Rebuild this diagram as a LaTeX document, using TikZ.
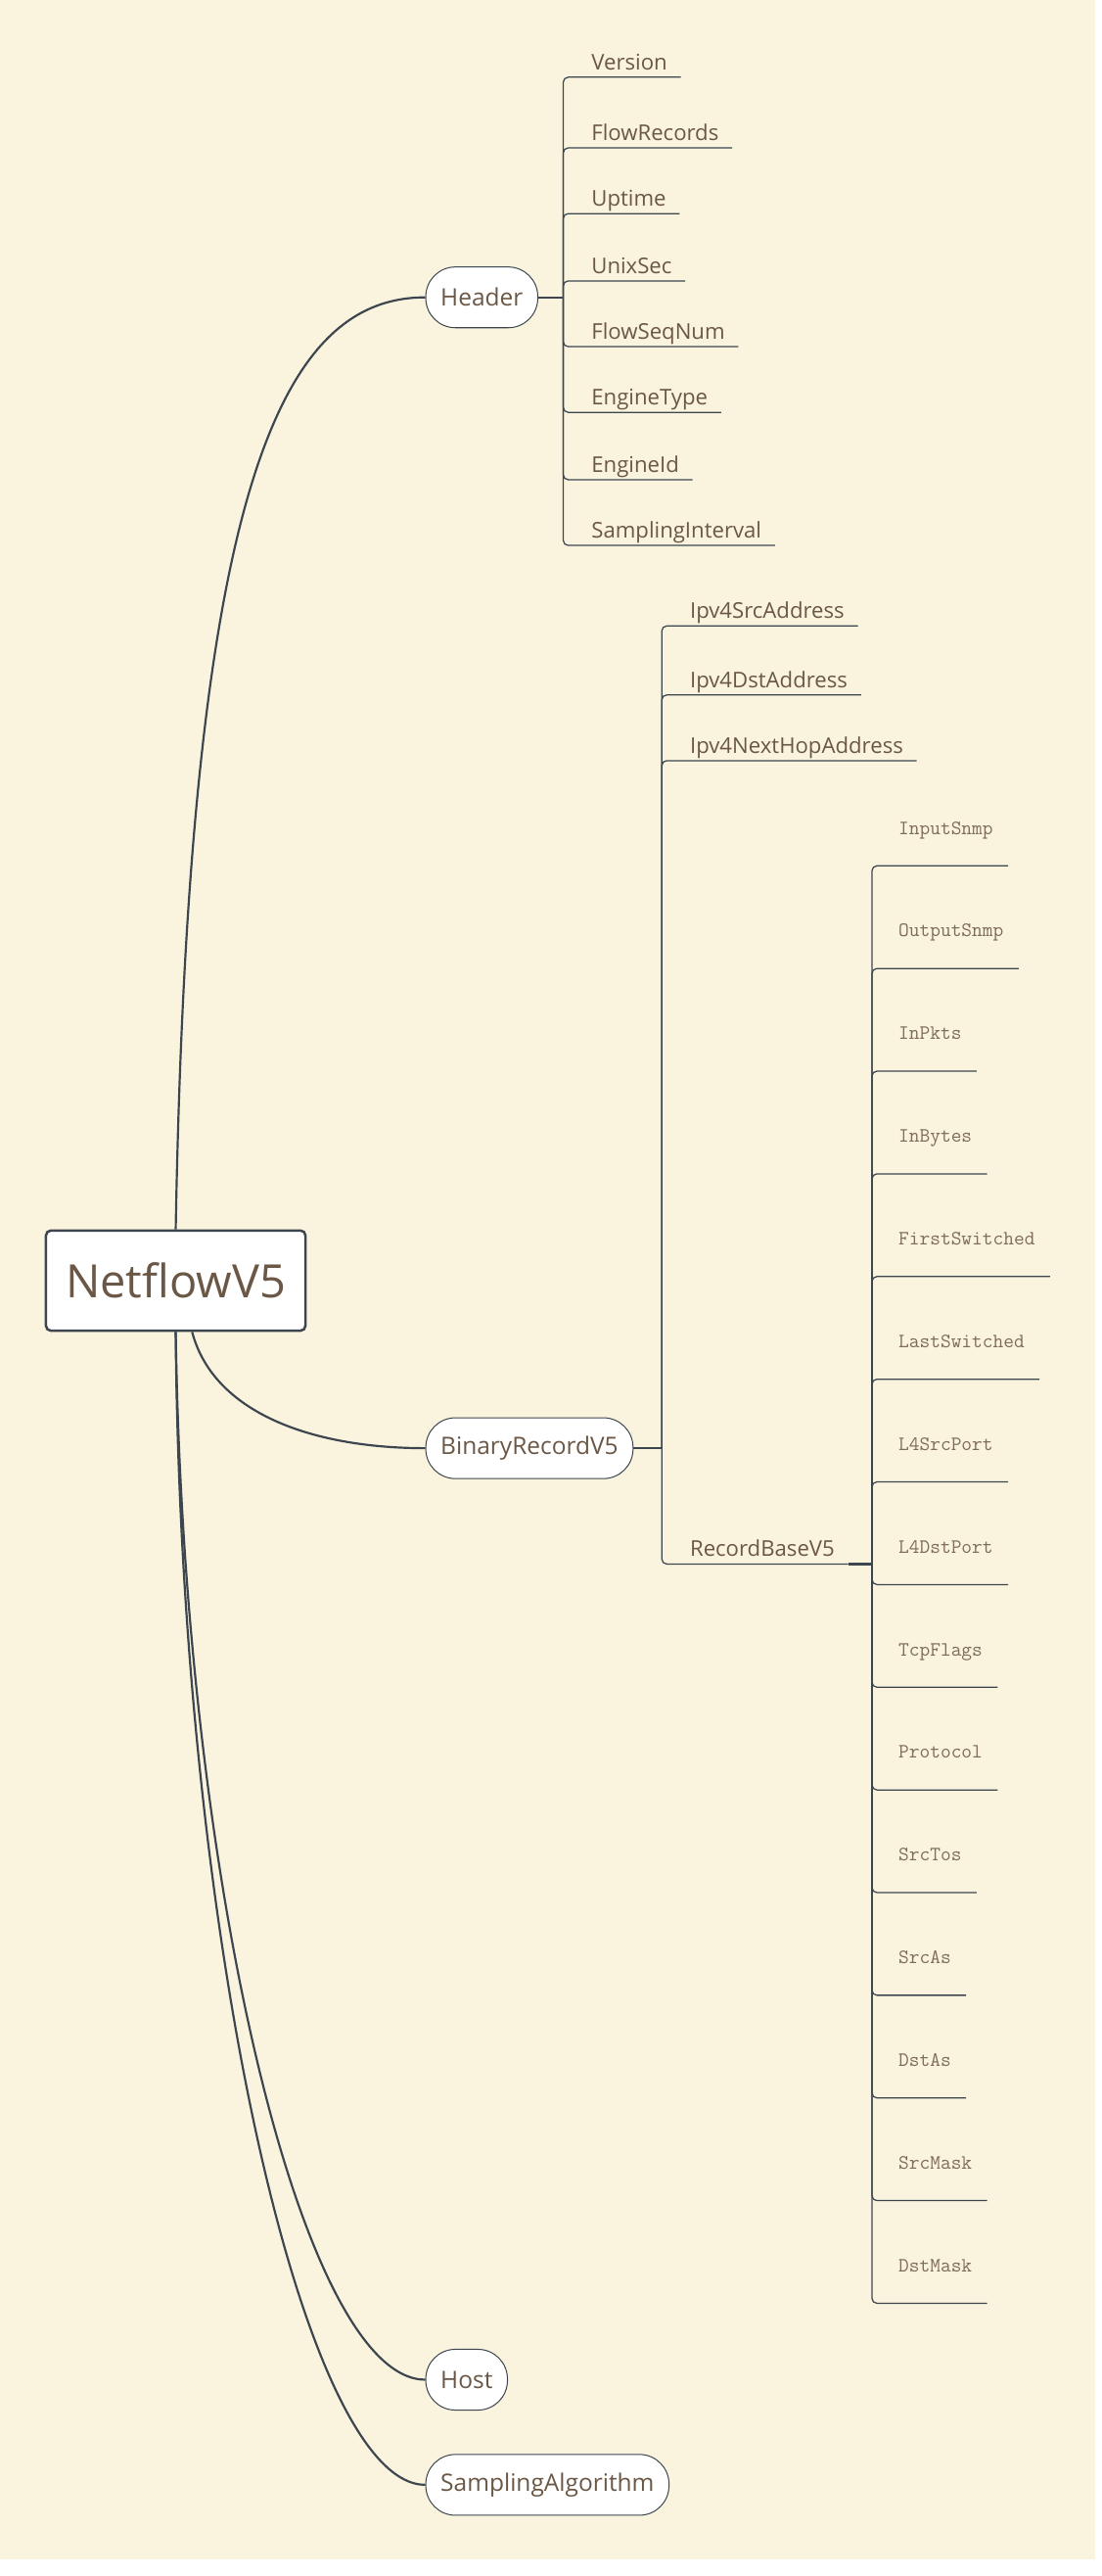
\documentclass[tikz,border=0pt]{standalone}
\usepackage{fontspec}
\setmainfont{Open Sans}
\definecolor{creambg}{HTML}{FAF4DE}
\definecolor{inkbrown}{HTML}{6B5745}
\definecolor{softbrown}{HTML}{7E6C59}
\definecolor{slategray}{HTML}{3D464E}
\tikzset{
	topic/.style={draw=slategray, fill=white, line width=0.6pt, rounded corners=18pt,
		minimum height=37pt, inner xsep=9pt, anchor=west,
		font=\fontsize{14.6}{16}\selectfont, text=inkbrown},
	leaf/.style={inner sep=0pt, text height=9pt, text depth=4.4pt, anchor=south west,
		font=\fontsize{13.2}{15}\selectfont, text=inkbrown},
	monoleaf/.style={leaf, text depth=19pt, font=\ttfamily\fontsize{12.4}{14}\selectfont, text=softbrown},
	branch/.style={draw=slategray, line width=0.75pt, rounded corners=3pt},
	limb/.style={draw=slategray, line width=1.3pt}
}

\begin{document}
\begin{tikzpicture}[x=1pt, y=-1pt]
				\useasboundingbox (0,0) rectangle (671,1568);
				\fill[white] (0,0) rectangle (671,1568);
				\fill[creambg] (0,0) rectangle (667,1558);

				% central topic and main branches
				\node[draw=slategray, fill=white, line width=1.5pt, rounded corners=3pt,
				minimum width=158pt, minimum height=61pt,
				font=\fontsize{28}{30}\selectfont, text=inkbrown] (netflow) at (107,779.5) {NetflowV5};
				\node[topic] (header) at (259,181) {Header};
				\node[topic] (binary) at (259,881.5) {BinaryRecordV5};
				\node[topic] (host) at (259,1448.5) {Host};
				\node[topic] (sampling) at (259,1512.5) {SamplingAlgorithm};

				\draw[limb] (netflow.north) .. controls (115,300) and (170,181) .. (header.west);
				\draw[limb] ([xshift=10pt]netflow.south) .. controls (130,860) and (190,881.5) .. (binary.west);
				\draw[limb] (netflow.south) .. controls (112,1150) and (185,1448.5) .. (host.west);
				\draw[limb] (netflow.south) .. controls (110,1180) and (185,1512.5) .. (sampling.west);

				% junctions
				\coordinate (hj) at (343,181);
				\coordinate (bj) at (403,881.5);
				\coordinate (rj) at (531,952);
				\draw[limb] (header.east) -- (hj);
				\draw[branch] (binary.east) -- (bj);

				% header fields
				\foreach \n/\t/\y in {version/Version/47, flowrec/FlowRecords/90, uptime/Uptime/130,
					unixsec/UnixSec/171, seqnum/FlowSeqNum/211, enginetype/EngineType/251,
					engineid/EngineId/292, sampint/SamplingInterval/332} {
					\node[leaf] (\n) at (360,\y) {\t};
					\draw[branch] (hj) |- ([xshift=8pt]\n.south east);
				}

				% record fields
				\foreach \n/\t/\y in {srcaddr/Ipv4SrcAddress/381, dstaddr/Ipv4DstAddress/423,
					nexthop/Ipv4NextHopAddress/463, recbase/RecordBaseV5/952} {
					\node[leaf] (\n) at (420,\y) {\t};
					\draw[branch] (bj) |- ([xshift=8pt]\n.south east);
				}
				\draw[branch, line width=1.3pt] ([xshift=8pt]recbase.south east) -- (rj);

				\foreach \t [count=\i] in {InputSnmp, OutputSnmp, InPkts, InBytes, FirstSwitched,
					LastSwitched, L4SrcPort, L4DstPort, TcpFlags, Protocol, SrcTos, SrcAs, DstAs,
					SrcMask, DstMask} {
					\node[monoleaf] (field\i) at (547,{464.5+62.5*\i}) {\t};
					\draw[branch] (rj) |- ([xshift=9pt]field\i.south east);
				}
			\end{tikzpicture}
\end{document}
